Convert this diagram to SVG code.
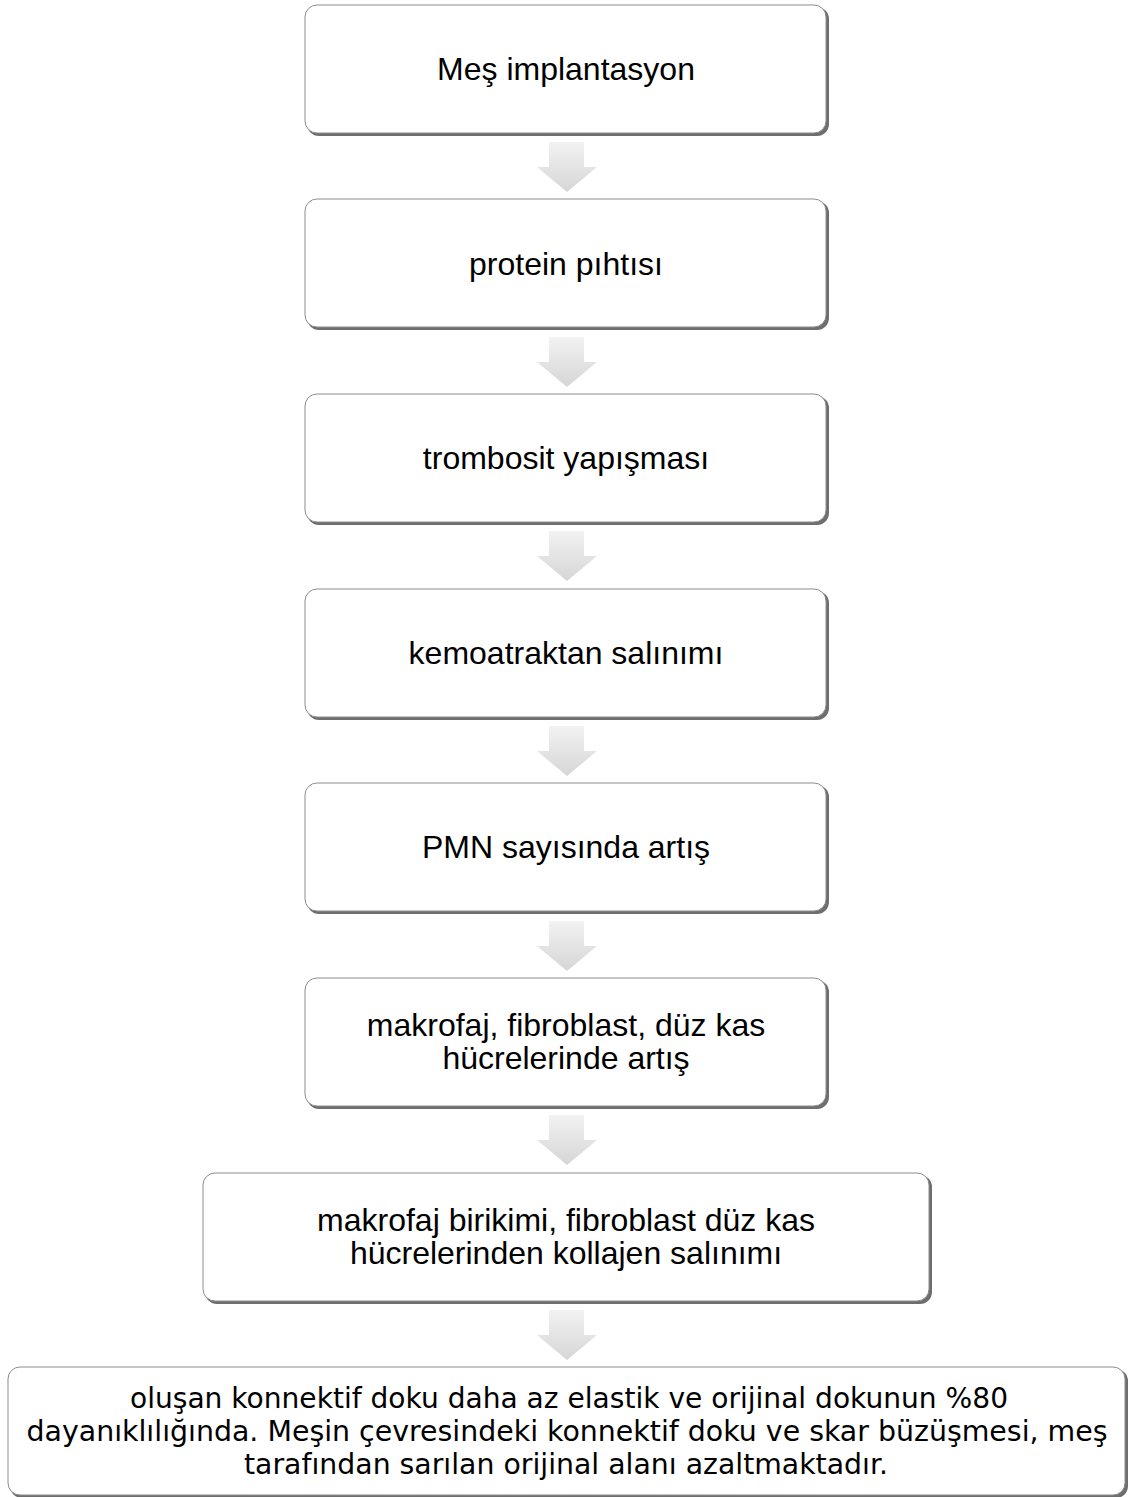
<svg xmlns="http://www.w3.org/2000/svg" width="1131" height="1497" viewBox="0 0 1131 1497">
<defs>
<linearGradient id="ag" x1="0" y1="0" x2="0" y2="1">
<stop offset="0" stop-color="#f2f2f2"/>
<stop offset="1" stop-color="#d6d6d6"/>
</linearGradient>
<path id="arr" d="M549,0 H584 V25 H597 L567,50 L537,25 H549 Z" fill="url(#ag)"/>
</defs>
<style>
.sh{fill:#6e6e6e}
.bx{fill:#fff;stroke:#8c8c8c;stroke-width:1}
.t{font-family:"Liberation Sans",Arial,sans-serif;font-size:32px;fill:#000;text-anchor:middle}
.t2{font-family:"DejaVu Sans","Liberation Sans",sans-serif;font-size:28px;fill:#000;text-anchor:middle}
</style>
<rect width="1131" height="1497" fill="#fff"/>
<g id="connectors">
<use href="#arr" y="142"/>
<use href="#arr" y="337"/>
<use href="#arr" y="531"/>
<use href="#arr" y="726"/>
<use href="#arr" y="921"/>
<use href="#arr" y="1115"/>
<use href="#arr" y="1310"/>
</g>
<g id="n1"><rect class="sh" x="307" y="7" width="522" height="129" rx="12"/><rect class="bx" x="305" y="5" width="521" height="128" rx="12"/><text class="t" x="566" y="80">Meş implantasyon</text></g>
<g id="n2"><rect class="sh" x="307" y="201" width="522" height="129" rx="12"/><rect class="bx" x="305" y="199" width="521" height="128" rx="12"/><text class="t" x="566" y="275">protein pıhtısı</text></g>
<g id="n3"><rect class="sh" x="307" y="396" width="522" height="129" rx="12"/><rect class="bx" x="305" y="394" width="521" height="128" rx="12"/><text class="t" x="566" y="469">trombosit yapışması</text></g>
<g id="n4"><rect class="sh" x="307" y="591" width="522" height="129" rx="12"/><rect class="bx" x="305" y="589" width="521" height="128" rx="12"/><text class="t" x="566" y="664">kemoatraktan salınımı</text></g>
<g id="n5"><rect class="sh" x="307" y="785" width="522" height="129" rx="12"/><rect class="bx" x="305" y="783" width="521" height="128" rx="12"/><text class="t" x="566" y="858">PMN sayısında artış</text></g>
<g id="n6"><rect class="sh" x="307" y="980" width="522" height="129" rx="12"/><rect class="bx" x="305" y="978" width="521" height="128" rx="12"/><text class="t" x="566" y="1036">makrofaj, fibroblast, düz kas</text><text class="t" x="566" y="1069">hücrelerinde artış</text></g>
<g id="n7"><rect class="sh" x="205" y="1175" width="727" height="129" rx="12"/><rect class="bx" x="203" y="1173" width="726" height="128" rx="12"/><text class="t" x="566" y="1231">makrofaj birikimi, fibroblast düz kas</text><text class="t" x="566" y="1264">hücrelerinden kollajen salınımı</text></g>
<g id="n8"><rect class="sh" x="10" y="1369" width="1118" height="129" rx="12"/><rect class="bx" x="8" y="1367" width="1117" height="128" rx="12"/>
<text class="t2" x="569" y="1408" textLength="878" lengthAdjust="spacingAndGlyphs">oluşan konnektif doku daha az elastik ve orijinal dokunun %80</text>
<text class="t2" x="567" y="1441" textLength="1081" lengthAdjust="spacingAndGlyphs">dayanıklılığında. Meşin çevresindeki konnektif doku ve skar büzüşmesi, meş</text>
<text class="t2" x="566" y="1474" textLength="644" lengthAdjust="spacingAndGlyphs">tarafından sarılan orijinal alanı azaltmaktadır.</text></g>
</svg>
